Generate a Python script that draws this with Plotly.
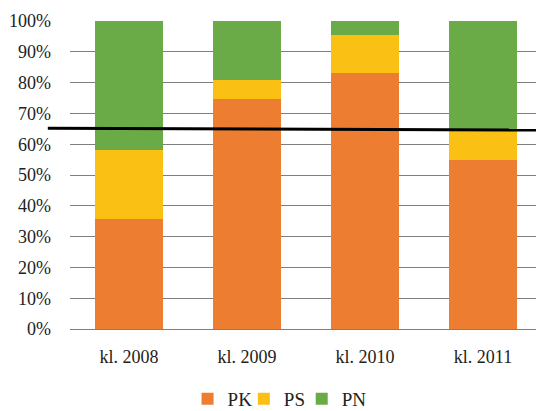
import plotly.graph_objects as go

categories = ["kl. 2008", "kl. 2009", "kl. 2010", "kl. 2011"]
pk = [35.7, 74.6, 83.1, 54.8]
ps = [22.4, 6.2, 12.5, 9.8]
pn = [41.9, 19.2, 4.4, 35.4]
tick_vals = [0, 10, 20, 30, 40, 50, 60, 70, 80, 90, 100]
tick_text = ["0%", "10%", "20%", "30%", "40%", "50%", "60%", "70%", "80%", "90%", "100%"]
threshold_start = 65.2
threshold_end = 64.6

font_family = "Liberation Serif"

fig = go.Figure()
fig.add_trace(go.Bar(name="PK", x=categories, y=pk, marker_color="#ED7D31", marker_line_width=0, legend="legend"))
fig.add_trace(go.Bar(name="PS", x=categories, y=ps, marker_color="#FBC014", marker_line_width=0, legend="legend2"))
fig.add_trace(go.Bar(name="PN", x=categories, y=pn, marker_color="#6BAB47", marker_line_width=0, legend="legend3"))

fig.add_shape(type="line", xref="paper", yref="y", x0=-0.047, x1=1.01,
              y0=threshold_start, y1=threshold_end,
              line=dict(color="black", width=3), layer="above")

def leg(x):
    return dict(orientation="h", xref="container", yref="container",
                x=x, xanchor="left", y=0.03, yanchor="middle",
                font=dict(size=19), itemwidth=30, bgcolor="rgba(0,0,0,0)")

# Page body has an 8px margin, so the figure is 536x403 to fill the 544x411 window
fig.update_layout(
    barmode="stack",
    bargap=0.43,
    width=536, height=403,
    margin=dict(l=62, r=2, t=13, b=82),
    plot_bgcolor="white", paper_bgcolor="white",
    font=dict(family=font_family, size=18, color="#222222"),
    showlegend=True,
    legend=leg(0.335),
    legend2=leg(0.440),
    legend3=leg(0.548),
    xaxis=dict(showgrid=False, showline=False, ticks="", tickfont=dict(size=18),
               ticklabelstandoff=15, automargin=False),
    yaxis=dict(range=[0, 100], tickvals=tick_vals, ticktext=tick_text,
               showgrid=True, gridcolor="#7f7f7f", gridwidth=1,
               zeroline=True, zerolinecolor="#7f7f7f", zerolinewidth=1,
               showline=False, ticks="", ticklabelstandoff=18, tickfont=dict(size=18),
               automargin=False),
)

fig.write_html("out.html")
